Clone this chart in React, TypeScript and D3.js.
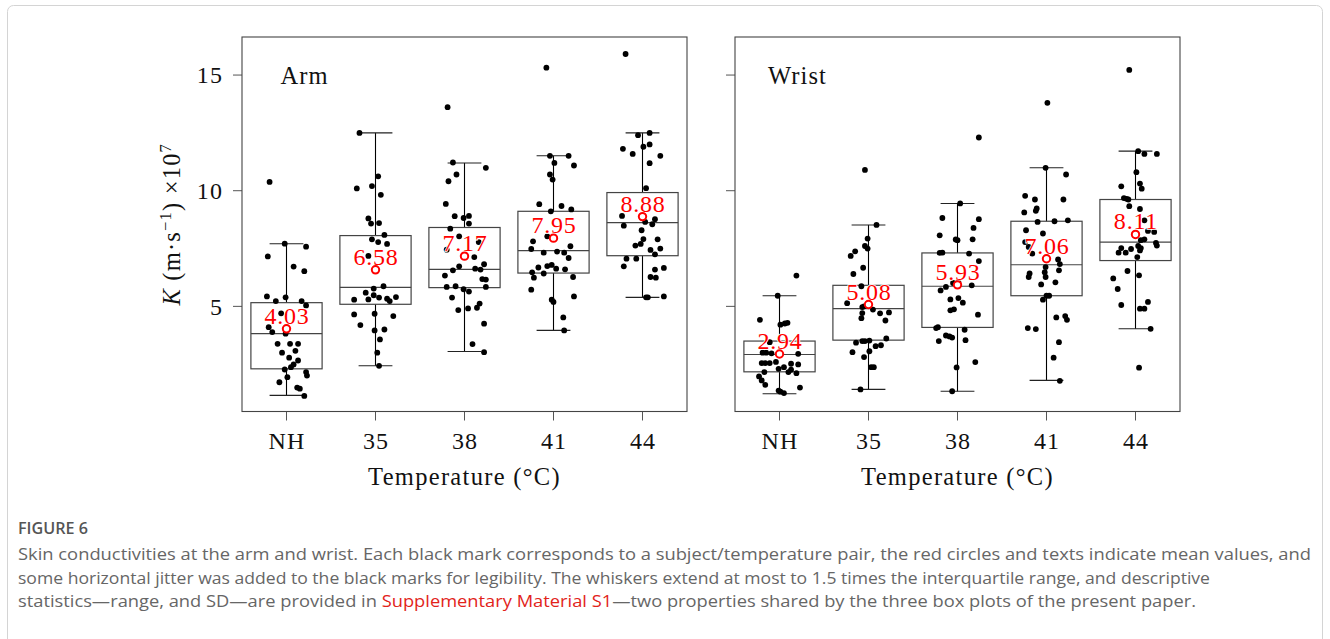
import React from 'react';
import * as d3 from 'd3';

// ---------- data ----------
const categories = ['NH', '35', '38', '41', '44'];
const yTicks = [5, 10, 15];

// box statistics (K × 10^7, m·s^-1)
const armLo = [1.15, 2.43, 3.05, 3.96, 5.39];
const armQ1 = [2.3, 5.09, 5.81, 6.44, 7.19];
const armMed = [3.82, 5.82, 6.6, 7.41, 8.62];
const armQ3 = [5.16, 8.06, 8.41, 9.11, 9.92];
const armHi = [7.71, 12.5, 11.2, 11.51, 12.5];
const armMean = [4.03, 6.58, 7.17, 7.95, 8.88];

const wristLo = [1.22, 1.41, 1.33, 1.8, 4.03];
const wristQ1 = [2.17, 3.54, 4.09, 5.46, 6.98];
const wristMed = [2.92, 4.9, 5.87, 6.8, 7.78];
const wristQ3 = [3.5, 5.91, 7.31, 8.68, 9.62];
const wristHi = [5.46, 8.52, 9.45, 10.99, 11.71];
const wristMean = [2.94, 5.08, 5.93, 7.06, 8.11];

// individual subject values and their horizontal jitter (fraction of category step)
const armValues = [
  [10.38, 7.71, 7.58, 7.16, 6.72, 6.52, 5.43, 5.23, 5.39, 5.23, 5.04, 4.7, 4.1, 3.89, 3.82, 3.38, 3.38, 3.38, 3.0, 3.08, 2.78, 2.66, 2.49, 2.37, 2.27, 2.16, 2.01, 1.94, 1.72, 1.49, 1.44, 1.13],
  [12.5, 10.62, 10.1, 10.2, 9.82, 8.8, 8.58, 8.6, 8.09, 7.9, 7.78, 7.7, 7.18, 5.87, 5.77, 5.59, 5.48, 5.38, 5.29, 5.3, 5.33, 5.23, 5.4, 4.65, 4.68, 4.58, 4.19, 3.96, 4.0, 3.57, 3.0, 2.43],
  [13.61, 11.22, 10.99, 10.7, 10.41, 9.43, 8.9, 8.82, 8.91, 8.58, 8.36, 8.03, 7.78, 7.45, 7.13, 6.82, 6.73, 6.56, 6.63, 6.59, 6.33, 6.18, 6.16, 5.84, 5.87, 5.74, 5.64, 5.84, 5.38, 5.12, 4.94, 4.84, 4.91, 4.25, 3.37, 3.02],
  [15.32, 11.51, 11.51, 11.2, 11.09, 10.7, 10.48, 9.42, 9.34, 9.11, 9.19, 8.03, 7.81, 7.48, 7.32, 7.37, 7.32, 7.6, 7.09, 6.68, 6.74, 6.79, 6.63, 6.6, 6.47, 6.42, 6.24, 6.27, 5.72, 5.43, 5.29, 5.19, 4.52, 3.96],
  [15.91, 12.4, 12.5, 11.81, 11.59, 11.9, 12.0, 11.51, 11.19, 10.11, 8.91, 8.77, 8.49, 8.65, 8.55, 8.29, 7.91, 7.9, 7.7, 7.63, 7.44, 7.5, 7.25, 7.06, 7.06, 6.73, 6.59, 6.66, 6.27, 6.24, 5.39, 5.39, 5.43],
];
const armJitter = [
  [-0.19, -0.02, 0.22, -0.21, 0.08, 0.2, -0.22, -0.12, -0.01, 0.17, 0.22, -0.06, -0.2, -0.16, -0.01, -0.1, 0.04, 0.13, -0.05, 0.1, 0.03, 0.13, 0.08, 0.05, -0.02, 0.22, 0.23, 0.01, -0.08, 0.12, 0.15, 0.2],
  [-0.18, 0.03, -0.21, -0.04, 0.06, -0.08, -0.05, 0.04, 0.1, -0.04, 0.03, 0.13, -0.08, 0.09, -0.02, -0.11, -0.02, 0.04, -0.24, -0.08, 0.13, 0.16, 0.23, -0.24, -0.01, 0.2, -0.17, -0.01, 0.1, 0.05, 0.02, 0.04],
  [-0.19, -0.13, 0.24, -0.09, -0.18, -0.21, -0.11, -0.01, 0.05, 0.05, -0.16, -0.06, 0.16, -0.2, 0.11, 0.22, -0.06, -0.13, 0.12, 0.18, -0.22, 0.2, 0.24, -0.2, -0.1, -0.01, 0.05, 0.24, -0.14, 0.17, 0.14, -0.07, 0.04, 0.22, 0.09, 0.22],
  [-0.08, -0.04, 0.17, 0.01, 0.23, -0.04, -0.01, -0.16, 0.09, -0.03, 0.2, -0.07, -0.23, -0.25, -0.11, 0.04, 0.12, 0.19, 0.17, -0.17, -0.07, -0.02, 0.03, 0.13, -0.24, -0.11, -0.22, 0.22, -0.25, 0.23, -0.02, 0.0, 0.11, 0.12],
  [-0.19, -0.05, 0.08, -0.22, -0.11, 0.01, 0.08, 0.2, 0.08, 0.04, -0.23, 0.14, -0.21, 0.03, 0.11, -0.01, 0.01, 0.17, -0.02, -0.08, 0.09, 0.2, 0.14, -0.18, -0.07, -0.21, 0.14, 0.24, 0.09, 0.15, 0.04, 0.06, 0.24],
];

const wristValues = [
  [6.33, 5.46, 4.42, 4.21, 4.26, 4.29, 3.45, 3.0, 3.0, 2.97, 2.95, 2.55, 2.55, 2.55, 2.6, 2.52, 2.49, 2.37, 2.3, 2.26, 2.16, 2.16, 2.11, 1.97, 1.8, 1.61, 1.49, 1.36, 1.31, 1.25],
  [10.9, 8.52, 7.93, 7.61, 7.5, 7.38, 7.18, 6.67, 6.4, 5.87, 5.14, 5.0, 4.97, 4.86, 4.71, 4.49, 4.7, 4.74, 4.39, 3.43, 3.5, 3.5, 3.52, 3.28, 3.32, 3.61, 3.02, 3.06, 2.81, 2.37, 2.37, 1.41],
  [12.3, 9.45, 8.82, 8.77, 8.39, 8.07, 7.89, 7.86, 7.9, 7.31, 7.32, 7.28, 6.96, 6.05, 5.69, 5.84, 6.01, 5.91, 5.3, 5.36, 5.16, 4.83, 4.87, 4.64, 4.06, 4.1, 3.99, 3.74, 3.7, 3.65, 3.5, 3.54, 2.36, 2.59, 1.33],
  [13.8, 10.99, 10.7, 9.78, 9.62, 9.62, 9.23, 9.13, 9.06, 8.65, 8.68, 8.72, 8.29, 8.15, 7.78, 7.57, 7.28, 7.03, 6.83, 6.7, 6.56, 6.48, 6.42, 6.27, 6.27, 5.95, 6.04, 5.46, 5.46, 5.29, 4.52, 4.58, 4.42, 4.06, 4.02, 3.45, 2.78, 1.78],
  [15.22, 11.71, 11.59, 11.59, 10.8, 10.19, 10.31, 10.09, 9.68, 9.65, 9.62, 9.33, 9.21, 8.72, 8.26, 8.22, 7.86, 7.9, 7.61, 7.52, 7.42, 7.74, 7.63, 7.52, 7.32, 7.32, 7.48, 7.13, 6.53, 6.34, 6.21, 5.75, 5.19, 4.9, 4.9, 5.06, 4.03, 2.35],
];
const wristJitter = [
  [0.19, -0.02, -0.22, 0.01, 0.06, 0.09, -0.11, -0.19, -0.15, -0.09, 0.21, -0.2, -0.16, -0.11, -0.04, 0.13, 0.21, 0.05, -0.01, 0.13, 0.1, -0.17, 0.19, -0.23, -0.2, -0.16, 0.23, -0.01, 0.01, 0.05],
  [-0.04, 0.09, -0.01, -0.04, -0.01, -0.15, -0.2, -0.06, -0.17, -0.08, -0.24, -0.05, -0.07, 0.05, -0.07, -0.08, 0.13, 0.23, 0.19, -0.14, -0.07, -0.04, 0.01, 0.08, 0.14, 0.2, -0.18, 0.01, -0.05, 0.03, 0.06, -0.09],
  [0.24, 0.03, -0.17, 0.24, 0.18, -0.2, -0.02, 0.0, 0.17, -0.2, -0.17, 0.13, 0.24, 0.01, -0.19, -0.13, -0.05, 0.16, -0.08, 0.01, 0.06, -0.08, -0.04, 0.23, -0.24, -0.22, 0.08, -0.13, -0.09, -0.06, -0.21, 0.09, -0.01, 0.2, -0.06],
  [0.01, -0.01, 0.22, -0.24, -0.13, 0.19, -0.11, -0.12, -0.25, -0.1, 0.09, 0.24, -0.23, -0.04, -0.24, -0.2, -0.16, 0.13, 0.15, -0.01, 0.14, -0.02, -0.19, -0.2, -0.01, -0.06, 0.1, 0.0, 0.03, -0.04, 0.11, 0.21, 0.23, -0.21, -0.12, 0.14, 0.08, 0.15],
  [-0.07, 0.03, 0.1, 0.24, 0.01, -0.16, 0.05, 0.07, -0.13, -0.1, -0.08, -0.07, 0.05, 0.1, 0.14, 0.21, 0.06, 0.1, 0.03, 0.06, 0.05, 0.23, 0.24, -0.16, -0.11, -0.19, -0.05, 0.02, -0.09, 0.04, -0.25, -0.2, 0.14, 0.1, 0.05, -0.16, 0.17, 0.04],
];

const captionTitle = 'FIGURE 6';
const captionLine1 = 'Skin conductivities at the arm and wrist. Each black mark corresponds to a subject/temperature pair, the red circles and texts indicate mean values, and';
const captionLine2 = 'some horizontal jitter was added to the black marks for legibility. The whiskers extend at most to 1.5 times the interquartile range, and descriptive';
const captionLine3a = 'statistics\u2014range, and SD\u2014are provided in ';
const captionLine3b = 'Supplementary Material S1';
const captionLine3c = '\u2014two properties shared by the three box plots of the present paper.';

// ---------- layout ----------
const W = 1330;
const H = 639;
const TOP = 37;
const BOTTOM = 411.5;
const SERIF = '"Liberation Serif", "DejaVu Serif", serif';
const SANS = '"Open Sans", "Noto Sans", sans-serif';
const LS = 1.1;

const y = d3.scaleLinear().domain([0.455, 16.645]).range([BOTTOM, TOP]);

type PanelProps = {
  name: string;
  x0: number;
  x1: number;
  showYLabels: boolean;
  lo: number[]; q1: number[]; med: number[]; q3: number[]; hi: number[]; mean: number[];
  values: number[][]; jitter: number[][];
};

function Panel(p: PanelProps) {
  const x = d3.scalePoint<string>().domain(categories).range([p.x0, p.x1]).padding(0.5);
  const step = x.step();
  const boxW = step * 0.8;
  const capW = step * 0.38;
  return (
    <g>
      {/* y ticks */}
      {yTicks.map((t) => (
        <g key={t}>
          <line x1={p.x0 - 9} x2={p.x0} y1={y(t)} y2={y(t)} stroke="#555" strokeWidth={1} />
          {p.showYLabels && (
            <text x={p.x0 - 19} y={y(t)} dy="0.35em" textAnchor="end" fontFamily={SERIF} fontSize={24} letterSpacing={LS} fill="#111">
              {t}
            </text>
          )}
        </g>
      ))}
      {/* x ticks */}
      {categories.map((c) => (
        <g key={c}>
          <line x1={x(c)} x2={x(c)} y1={BOTTOM} y2={BOTTOM + 9} stroke="#555" strokeWidth={1} />
          <text x={(x(c) as number) + LS / 2} y={BOTTOM + 37} textAnchor="middle" fontFamily={SERIF} fontSize={24} letterSpacing={LS} fill="#111">
            {c}
          </text>
        </g>
      ))}
      <text x={(p.x0 + p.x1) / 2} y={BOTTOM + 73} textAnchor="middle" fontFamily={SERIF} fontSize={24.5} letterSpacing={1.3} fill="#111">
        Temperature (°C)
      </text>
      <text x={p.x0 + 62.5} y={84} textAnchor="middle" fontFamily={SERIF} fontSize={24.5} letterSpacing={LS} fill="#111">
        {p.name}
      </text>
      {/* boxes */}
      {categories.map((c, i) => {
        const cx = x(c) as number;
        return (
          <g key={'b' + c}>
            <line x1={cx} x2={cx} y1={y(p.q3[i])} y2={y(p.hi[i])} stroke="#000" strokeWidth={1.1} />
            <line x1={cx} x2={cx} y1={y(p.q1[i])} y2={y(p.lo[i])} stroke="#000" strokeWidth={1.1} />
            <line x1={cx - capW / 2} x2={cx + capW / 2} y1={y(p.hi[i])} y2={y(p.hi[i])} stroke="#222" strokeWidth={1.1} />
            <line x1={cx - capW / 2} x2={cx + capW / 2} y1={y(p.lo[i])} y2={y(p.lo[i])} stroke="#222" strokeWidth={1.1} />
            <rect x={cx - boxW / 2} y={y(p.q3[i])} width={boxW} height={y(p.q1[i]) - y(p.q3[i])} fill="none" stroke="#444" strokeWidth={1.2} />
            <line x1={cx - boxW / 2} x2={cx + boxW / 2} y1={y(p.med[i])} y2={y(p.med[i])} stroke="#444" strokeWidth={1.2} />
          </g>
        );
      })}
      {/* points */}
      {categories.map((c, i) => {
        const cx = x(c) as number;
        return (
          <g key={'p' + c}>
            {p.values[i].map((v, j) => (
              <circle key={j} cx={cx + p.jitter[i][j] * step} cy={y(v)} r={2.9} fill="#000" />
            ))}
          </g>
        );
      })}
      {/* means */}
      {categories.map((c, i) => {
        const cx = x(c) as number;
        return (
          <g key={'m' + c}>
            <text
              x={cx + 0.5}
              y={y(p.mean[i]) - 5}
              textAnchor="middle"
              fontFamily={SERIF}
              fontSize={24}
              letterSpacing={0.8}
              fill="#ff0000"
              stroke="#fff"
              strokeWidth={1.6}
              style={{ paintOrder: 'stroke' }}
            >
              {p.mean[i].toFixed(2)}
            </text>
            <circle cx={cx} cy={y(p.mean[i])} r={3.7} fill="#fff" stroke="#ff0000" strokeWidth={2} />
          </g>
        );
      })}
      {/* frame */}
      <rect x={p.x0} y={TOP} width={p.x1 - p.x0} height={BOTTOM - TOP} fill="none" stroke="#444" strokeWidth={1.1} />
    </g>
  );
}

export default function App() {
  return (
    <svg width={W} height={H} style={{ position: 'absolute', left: 0, top: 0, background: '#fff' }}>
      <rect x={7.5} y={5.5} width={1315} height={720} rx={6} fill="#fff" stroke="#d4d4d4" strokeWidth={1} />
      <Panel name="Arm" x0={242} x1={687} showYLabels={true}
        lo={armLo} q1={armQ1} med={armMed} q3={armQ3} hi={armHi} mean={armMean}
        values={armValues} jitter={armJitter} />
      <Panel name="Wrist" x0={735} x1={1180} showYLabels={false}
        lo={wristLo} q1={wristQ1} med={wristMed} q3={wristQ3} hi={wristHi} mean={wristMean}
        values={wristValues} jitter={wristJitter} />
      <text transform={`translate(180, ${(TOP + BOTTOM) / 2}) rotate(-90)`} textAnchor="middle" fontFamily={SERIF} fontSize={24.5} letterSpacing={1.2} fill="#111">
        <tspan fontStyle="italic">K</tspan>
        <tspan> (m·s</tspan>
        <tspan fontSize={16.5} dy={-9}>−1</tspan>
        <tspan dy={9}>) ×10</tspan>
        <tspan fontSize={16.5} dy={-9}>7</tspan>
      </text>
      <text x={18} y={534} fontFamily={SANS} fontSize={17} fontWeight={600} fill="#555" textLength={70} lengthAdjust="spacingAndGlyphs">
        {captionTitle}
      </text>
      <text x={18} y={560} fontFamily={SANS} fontSize={16.5} fill="#666" textLength={1293} lengthAdjust="spacingAndGlyphs">
        {captionLine1}
      </text>
      <text x={18} y={584} fontFamily={SANS} fontSize={16.5} fill="#666" textLength={1192} lengthAdjust="spacingAndGlyphs">
        {captionLine2}
      </text>
      <text x={18} y={607} fontFamily={SANS} fontSize={16.5} fill="#666" textLength={1178} lengthAdjust="spacingAndGlyphs">
        <tspan>{captionLine3a}</tspan>
        <tspan fill="#e2231a">{captionLine3b}</tspan>
        <tspan>{captionLine3c}</tspan>
      </text>
    </svg>
  );
}
